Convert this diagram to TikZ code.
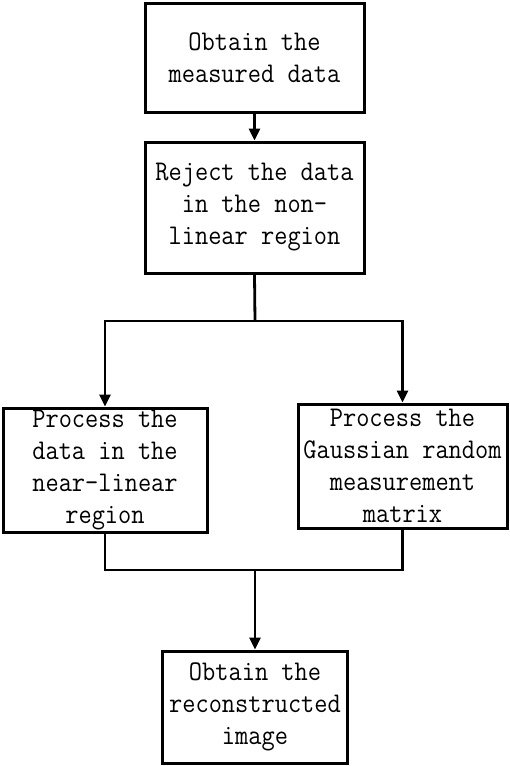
\documentclass[tikz,border=0pt]{standalone}
\usepackage{fontspec}
\newfontfamily\boxfont[FakeStretch=0.9]{Latin Modern Mono}
\usetikzlibrary{arrows.meta}
\tikzset{
  box/.style={draw, line width=3pt, inner sep=0pt, align=center,
    font=\boxfont\fontsize{28.5}{32}\selectfont},
  conn/.style={line width=2.8pt},
  arr/.style={conn, -{Triangle[width=11pt,length=12pt]}}
}
\begin{document}
\begin{tikzpicture}[x=1pt,y=-1pt]
\useasboundingbox (0,0) rectangle (509,766);
\node[box, minimum width=219pt, minimum height=109pt] (b1) at (254.5,57.5) {Obtain the\\measured data};
\node[box, minimum width=219pt, minimum height=131pt] (b2) at (254.5,207.5) {Reject the data\\in the non-\\linear region};
\node[box, minimum width=204pt, minimum height=124pt] (b3) at (105,470) {Process the\\data in the\\near-linear\\region};
\node[box, minimum width=209pt, minimum height=124pt] (b4) at (402.5,466) {Process the\\Gaussian random\\measurement\\matrix};
\node[box, minimum width=185pt, minimum height=112pt] (b5) at (255,707) {Obtain the\\reconstructed\\image};
\coordinate (s) at (255,321);
\coordinate (m) at (255,570);
\draw[arr] (b1.south) -- (b2.north);
\draw[conn] (b2.south) -- (s);
\draw[arr] (s) -| (b3.north);
\draw[arr] (s) -| (b4.north);
\draw[conn] (b3.south) |- (m);
\draw[conn] (b4.south) |- (m);
\draw[arr] (m) -- (b5.north);
\end{tikzpicture}
\end{document}
